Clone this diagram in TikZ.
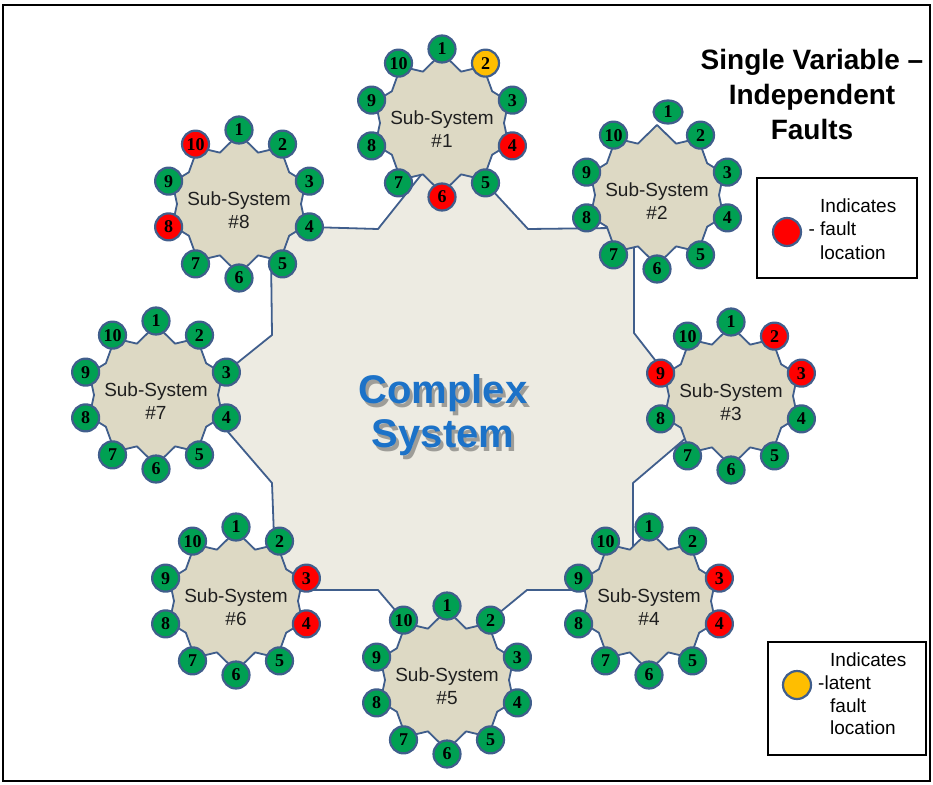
\documentclass[tikz,border=0pt]{standalone}
\usepackage{fontspec}
\setmainfont{Liberation Sans}
\newfontfamily\digitfont{Liberation Serif}
\usetikzlibrary{calc,shapes.geometric}

\definecolor{edgeblue}{RGB}{64,94,140}
\definecolor{subfill}{RGB}{221,217,196}
\definecolor{corefill}{RGB}{237,235,226}
\definecolor{okgreen}{RGB}{0,160,82}
\definecolor{faultred}{RGB}{255,0,0}
\definecolor{latentamber}{RGB}{255,190,0}
\definecolor{coreblue}{RGB}{28,114,200}

\tikzset{
  subbody/.style={fill=subfill, draw=edgeblue, line width=1.8pt, line join=round},
  corebody/.style={fill=corefill, draw=edgeblue, line width=1.8pt, line join=round},
  dotbase/.style={circle, draw=edgeblue, line width=2.2pt, minimum size=27pt, inner sep=0pt,
    font=\digitfont\bfseries\fontsize{18}{18}\selectfont},
  sublabel/.style={align=center, font=\fontsize{19}{23}\selectfont, text=black!88, inner sep=0pt},
  coretext/.style={align=center, font=\bfseries\fontsize{40}{44}\selectfont, inner sep=0pt},
  legendbox/.style={draw=black, line width=2pt, fill=white, inner sep=0pt},
  legendtext/.style={align=left, anchor=west, inner sep=0pt},
}

% ten-point outline of a sub-system: inner corners on an ellipse, outer tips under the dots
\newcommand\subshape[1]{%
  \draw[subbody] ($(#1)+(0:62pt and 54pt)$)
    \foreach \ang [evaluate=\ang as \nxt using \ang+18] in {18,54,...,306}
      { -- ($(#1)+(\ang:70pt)$) -- ($(#1)+(\nxt:62pt and 54pt)$) }
    -- ($(#1)+(342:70pt)$) -- cycle;}

% numbered dots around a sub-system, number/colour pairs
\newcommand\ring[2]{%
  \foreach \k/\dotcol in {#2} {
    \pgfmathsetmacro\dotang{90-36*(\k-1)}
    \node[dotbase, fill=\dotcol] (#1-\k) at ($(#1)+(\dotang:74pt)$) {\k};
  }}

\begin{document}
\begin{tikzpicture}[x=1pt,y=-1pt]
\useasboundingbox (0,0) rectangle (933,784);

% sub-system centres
\coordinate (s1) at (442,123);
\coordinate (s2) at (657,195);
\coordinate (s3) at (731,396);
\coordinate (s4) at (649,601);
\coordinate (s5) at (447,680);
\coordinate (s6) at (236,601);
\coordinate (s7) at (156,395);
\coordinate (s8) at (239,204);

% bends of the complex-system outline between sub-systems
\coordinate (k12) at (528,229);
\coordinate (k23) at (634,333);
\coordinate (k34) at (633,483);
\coordinate (k45) at (527,590);
\coordinate (k56) at (378,590);
\coordinate (k67) at (272,483);
\coordinate (k78) at (272,335);
\coordinate (k81) at (378,229);

% where the outline meets each sub-system
\coordinate (a1r) at (485.5,183);
\coordinate (a1l) at (425,170);
\coordinate (a2l) at (613,228);
\coordinate (a2b) at (634,243);
\coordinate (a3t) at (666,374);
\coordinate (a3b) at (687,437);
\coordinate (a4t) at (633,552);
\coordinate (a4l) at (591,590);
\coordinate (a5r) at (490.5,620);
\coordinate (a5l) at (403.5,620);
\coordinate (a6r) at (296,590);
\coordinate (a6t) at (274,537);
\coordinate (a7b) at (216,418);
\coordinate (a7t) at (226,372);
\coordinate (a8b) at (271,256);
\coordinate (a8r) at (309.4,227);

% complex system body
\draw[corebody] (s1) -- (a1r) -- (k12) -- (a2l) -- (s2) -- (a2b) -- (k23) -- (a3t)
  -- (s3) -- (a3b) -- (k34) -- (a4t) -- (s4) -- (a4l) -- (k45) -- (a5r) -- (s5)
  -- (a5l) -- (k56) -- (a6r) -- (s6) -- (a6t) -- (k67) -- (a7b) -- (s7) -- (a7t)
  -- (k78) -- (a8b) -- (s8) -- (a8r) -- (k81) -- (a1l) -- cycle;

% sub-system bodies
\foreach \s in {s1,s2,s3,s4,s5,s6,s7,s8} {\subshape{\s}}

% numbered dots
\ring{s1}{1/okgreen,2/latentamber,3/okgreen,4/faultred,5/okgreen,6/faultred,7/okgreen,8/okgreen,9/okgreen,10/okgreen}
\node[dotbase, ellipse, minimum width=29pt, minimum height=23pt, fill=okgreen] (s2-1) at (668,112) {1};
\ring{s2}{2/okgreen,3/okgreen,4/okgreen,5/okgreen,6/okgreen,7/okgreen,8/okgreen,9/okgreen,10/okgreen}
\ring{s3}{1/okgreen,2/faultred,3/faultred,4/okgreen,5/okgreen,6/okgreen,7/okgreen,8/okgreen,9/faultred,10/okgreen}
\ring{s4}{1/okgreen,2/okgreen,3/faultred,4/faultred,5/okgreen,6/okgreen,7/okgreen,8/okgreen,9/okgreen,10/okgreen}
\ring{s5}{1/okgreen,2/okgreen,3/okgreen,4/okgreen,5/okgreen,6/okgreen,7/okgreen,8/okgreen,9/okgreen,10/okgreen}
\ring{s6}{1/okgreen,2/okgreen,3/faultred,4/faultred,5/okgreen,6/okgreen,7/okgreen,8/okgreen,9/okgreen,10/okgreen}
\ring{s7}{1/okgreen,2/okgreen,3/okgreen,4/okgreen,5/okgreen,6/okgreen,7/okgreen,8/okgreen,9/okgreen,10/okgreen}
\ring{s8}{1/okgreen,2/okgreen,3/okgreen,4/okgreen,5/okgreen,6/okgreen,7/okgreen,8/faultred,9/okgreen,10/faultred}

% sub-system names
\foreach \i in {1,...,8} {
  \node[sublabel] (s\i-label) at ($(s\i)+(0,6)$) {Sub-System\\\#\i};
}

% complex system caption with a drop shadow
\coordinate (core) at (443,415);
\node[coretext, text=black!75, text opacity=0.45] (core-shadow) at ($(core)+(3,4)$) {Complex\\System};
\node[coretext, text=coreblue] (core-label) at (core) {Complex\\System};

% heading
\node[align=center, font=\bfseries\fontsize{28}{35}\selectfont, inner sep=0pt] (title)
  at (812,94) {Single Variable \textendash\\Independent\\Faults};

% legend: fault
\node[legendbox, minimum width=160pt, minimum height=100pt] (legend-fault) at (837,228) {};
\node[dotbase, minimum size=28pt, fill=faultred] (legend-fault-dot) at (787,232) {};
\node[legendtext, font=\fontsize{19}{23.5}\selectfont] (legend-fault-text) at (820,229)
  {Indicates\\\llap{- }fault\\location};

% legend: latent fault
\node[legendbox, minimum width=158pt, minimum height=113pt] (legend-latent) at (847,698.5) {};
\node[dotbase, minimum size=28pt, fill=latentamber] (legend-latent-dot) at (797,685) {};
\node[legendtext, font=\fontsize{19}{22.7}\selectfont] (legend-latent-text) at (830,694)
  {Indicates\\\hspace*{-12pt}-latent\\fault\\location};

% outer frame
\draw[black, line width=2pt] (3,5) rectangle (930,781);
\end{tikzpicture}
\end{document}
